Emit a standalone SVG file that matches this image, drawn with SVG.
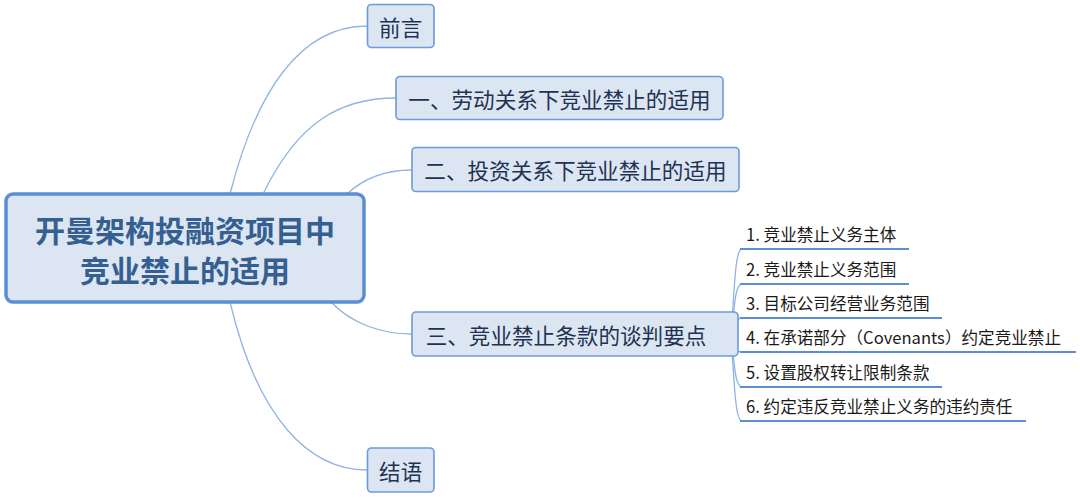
<svg xmlns="http://www.w3.org/2000/svg" width="1080" height="498" viewBox="0 0 1080 498">
<style>
.bg{fill:#ffffff}
.root rect{fill:#dce6f2;stroke:#5b8fd3;stroke-width:3.5}
.node rect{fill:#dce6f2;stroke:#6b9bd9;stroke-width:1.6}
.rt{font-family:"Noto Sans CJK SC","Microsoft YaHei",sans-serif;font-size:30px;font-weight:bold;fill:#365f91;text-anchor:middle;dominant-baseline:central}
.nt{font-family:"Noto Sans CJK SC","Microsoft YaHei",sans-serif;font-size:21.6px;fill:#1f3252;text-anchor:middle;dominant-baseline:central}
.ct{font-family:"Noto Sans CJK SC","Microsoft YaHei",sans-serif;font-size:16.6px;fill:#1a1a1a}
.conn path{fill:none;stroke:#8fb4e3;stroke-width:1.3}
.conn .ul{stroke:#5b8fd3;stroke-width:2}
.toggle{fill:#ffffff;stroke:#8fb4e3;stroke-width:1}
</style>
<rect class="bg" x="0" y="0" width="1080" height="498"/>
<g id="connectors" class="conn">
<path d="M230,194 C256,92 300,26 367,26"/>
<path d="M263,194 C298,122 340,98 396,98"/>
<path d="M347,194 C364,178 384,170 412,170"/>
<path d="M331,302 C352,324 382,334 412,334"/>
<path d="M230,302 C258,420 310,470 367,470"/>
<path d="M728,336 C735,336 732,249 742,249"/>
<path d="M728,336 C735,336 732,284 742,284"/>
<path d="M728,336 C735,336 732,318 742,318"/>
<path d="M728,336 C735,336 732,352 742,352"/>
<path d="M728,336 C735,336 732,387 742,387"/>
<path d="M728,336 C735,336 732,421 742,421"/>
<path class="ul" d="M740,249 L909,249"/>
<path class="ul" d="M740,284 L909,284"/>
<path class="ul" d="M740,318 L942,318"/>
<path class="ul" d="M740,352 L1076,352"/>
<path class="ul" d="M740,387 L942,387"/>
<path class="ul" d="M740,421 L1026,421"/>
<circle class="toggle" cx="724" cy="336" r="4"/>
<path d="M721.5,336 L726.5,336" style="stroke:#8fb4e3;stroke-width:1"/>
</g>
<g id="root" class="root">
<rect x="6" y="194" width="358" height="108" rx="7"/>
<text class="rt" x="185" y="229">开曼架构投融资项目中</text>
<text class="rt" x="185" y="269">竞业禁止的适用</text>
</g>
<g id="n-preface" class="node">
<rect x="367.5" y="4.5" width="66.5" height="43" rx="4"/>
<text class="nt" x="400.7" y="26">前言</text>
</g>
<g id="n-1" class="node">
<rect x="396" y="76.5" width="327" height="43" rx="4"/>
<text class="nt" x="559.5" y="98">一、劳动关系下竞业禁止的适用</text>
</g>
<g id="n-2" class="node">
<rect x="412" y="147.5" width="327" height="44" rx="4"/>
<text class="nt" x="575.5" y="169.5">二、投资关系下竞业禁止的适用</text>
</g>
<g id="n-3" class="node">
<rect x="412" y="312" width="326" height="44" rx="4"/>
<text class="nt" x="566" y="334">三、竞业禁止条款的谈判要点</text>
</g>
<g id="n-end" class="node">
<rect x="367.5" y="448" width="66.5" height="44" rx="4"/>
<text class="nt" x="400.7" y="470">结语</text>
</g>
<g id="c-1"><text class="ct" x="746" y="241">1. 竞业禁止义务主体</text></g>
<g id="c-2"><text class="ct" x="746" y="276">2. 竞业禁止义务范围</text></g>
<g id="c-3"><text class="ct" x="746" y="310">3. 目标公司经营业务范围</text></g>
<g id="c-4"><text class="ct" x="746" y="344">4. 在承诺部分（Covenants）约定竞业禁止</text></g>
<g id="c-5"><text class="ct" x="746" y="379">5. 设置股权转让限制条款</text></g>
<g id="c-6"><text class="ct" x="746" y="413">6. 约定违反竞业禁止义务的违约责任</text></g>
</svg>
